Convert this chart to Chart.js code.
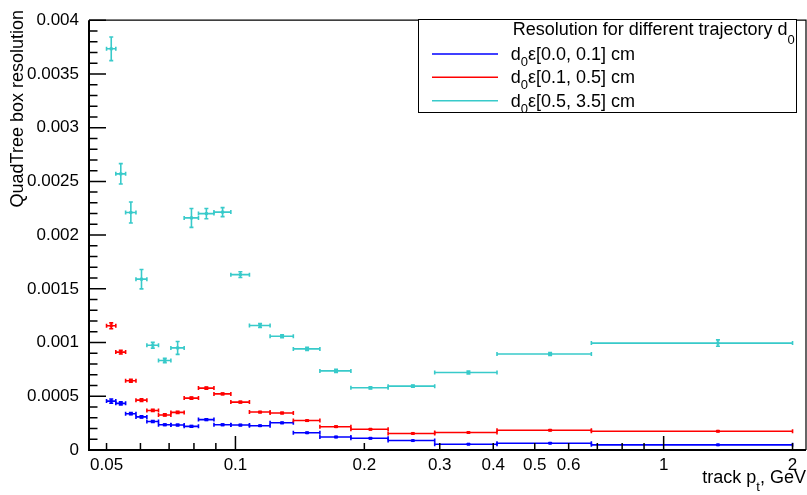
<!DOCTYPE html>
<html><head><meta charset="utf-8">
<script src="https://cdn.jsdelivr.net/npm/chart.js@4/dist/chart.umd.min.js"></script>
<style>html,body{margin:0;padding:0;background:#fff;} canvas{display:block;}</style>
</head><body>
<canvas id="c" width="807" height="495" style="width:807px;height:495px"></canvas>
<script>
// ---- data ----
const binEdges = [0.05, 0.05256, 0.0554, 0.05857, 0.06211, 0.06612, 0.07067, 0.0759, 0.08197, 0.08909,
  0.09756, 0.10782, 0.12048, 0.13652, 0.15748, 0.18605, 0.22727, 0.29197, 0.40816, 0.67797, 2.0];
const xTickLabels = [0.05, 0.1, 0.2, 0.3, 0.4, 0.5, 0.6, 1, 2];
const yTickLabels = [0, 0.0005, 0.001, 0.0015, 0.002, 0.0025, 0.003, 0.0035, 0.004];
const seriesLabels = ['[0.0, 0.1] cm', '[0.1, 0.5] cm', '[0.5, 3.5] cm'];

const d0Low = [0.000455, 0.000434, 0.000338, 0.000308, 0.000265, 0.000235, 0.000232, 0.00022, 0.000283, 0.000235,
  0.000232, 0.000226, 0.000253, 0.00016, 0.000121, 0.000109, 0.000088, 0.000054, 0.000063, 0.000048];
const d0LowErr = [0.00002, 0.000014, 0.00001, 0.00001, 0.000008, 0.000007, 0.000007, 0.000007, 0.000008, 0.000006,
  0.000005, 0.000005, 0.000005, 0.000004, 0.000004, 0.000004, 0.000003, 0.000003, 0.000003, 0.000003];
const d0Mid = [0.001156, 0.000911, 0.000645, 0.000464, 0.000368, 0.000326, 0.00035, 0.000483, 0.000576, 0.000522,
  0.000446, 0.000353, 0.000344, 0.000274, 0.000217, 0.000193, 0.000154, 0.000163, 0.000184, 0.000175];
const d0MidErr = [0.000027, 0.000018, 0.000014, 0.000012, 0.00001, 0.00001, 0.00001, 0.00001, 0.00001, 0.000008,
  0.000007, 0.000006, 0.000006, 0.000005, 0.000005, 0.000004, 0.000004, 0.000004, 0.000004, 0.000004];
const d0High = [0.003734, 0.00257, 0.00221, 0.00159, 0.000975, 0.000833, 0.00095, 0.00216, 0.0022, 0.002214,
  0.001632, 0.001158, 0.001059, 0.000941, 0.000736, 0.000579, 0.000594, 0.000721, 0.000893, 0.000995];
const d0HighErr = [0.00011, 0.000095, 0.000098, 0.00009, 0.000027, 0.00002, 0.00006, 0.000088, 0.000048, 0.000042,
  0.000027, 0.000018, 0.000014, 0.000014, 0.000014, 0.00001, 0.00001, 0.000014, 0.000014, 0.00003];

const FONT = '"Liberation Sans", Arial, Helvetica, sans-serif';
const colLow = 'rgb(0,0,255)', colMid = 'rgb(255,0,0)', colHigh = 'rgb(56,202,202)';

function centers() { return binEdges.slice(0, -1).map((e, i) => (e + binEdges[i + 1]) / 2); }
function pts(vals) { const c = centers(); return vals.map((v, i) => ({ x: c[i], y: v })); }

const errPlugin = {
  id: 'rootErr',
  afterDatasetsDraw(chart) {
    const { ctx, scales: { x, y }, chartArea: a } = chart;
    ctx.save();
    ctx.beginPath(); ctx.rect(a.left, a.top, a.right - a.left, a.bottom - a.top); ctx.clip();
    chart.data.datasets.forEach(ds => {
      ctx.strokeStyle = ds.borderColor; ctx.fillStyle = ds.borderColor; ctx.lineWidth = 1.6;
      ds.data.forEach((p, i) => {
        const e = ds.errors[i];
        const xl = x.getPixelForValue(binEdges[i]), xr = x.getPixelForValue(binEdges[i + 1]);
        const xc = x.getPixelForValue(p.x);
        const yc = y.getPixelForValue(p.y), yt = y.getPixelForValue(p.y + e), yb = y.getPixelForValue(p.y - e);
        ctx.beginPath();
        ctx.moveTo(xl, yc); ctx.lineTo(xr, yc);
        ctx.moveTo(xc, yt); ctx.lineTo(xc, yb);
        ctx.moveTo(xl, yc - 2); ctx.lineTo(xl, yc + 2);
        ctx.moveTo(xr, yc - 2); ctx.lineTo(xr, yc + 2);
        ctx.moveTo(xc - 2, yt); ctx.lineTo(xc + 2, yt);
        ctx.moveTo(xc - 2, yb); ctx.lineTo(xc + 2, yb);
        ctx.stroke();
        ctx.fillRect(xc - 1.5, yc - 1.5, 3, 3);
      });
    });
    ctx.restore();
  },
  afterDraw(chart) {
    const { ctx, scales: { x, y }, chartArea: a } = chart;
    ctx.save();
    ctx.strokeStyle = '#000';
    // frame
    ctx.lineWidth = 1.2;
    ctx.beginPath();
    ctx.moveTo(a.left, a.top); ctx.lineTo(a.right, a.top); ctx.lineTo(a.right, a.bottom);
    ctx.stroke();
    ctx.lineWidth = 2;
    ctx.beginPath();
    ctx.moveTo(a.left, a.top); ctx.lineTo(a.left, a.bottom); ctx.lineTo(a.right, a.bottom);
    ctx.stroke();
    // y ticks (inside)
    ctx.lineWidth = 1.5;
    ctx.beginPath();
    for (let k = 0; k <= 40; k++) {
      const v = k * 0.0001;
      const py = y.getPixelForValue(v);
      const len = (k % 5 === 0) ? 17 : 8.5;
      ctx.moveTo(a.left, py); ctx.lineTo(a.left + len, py);
    }
    ctx.stroke();
    // x ticks (inside)
    const minorX = [0.05, 0.06, 0.07, 0.08, 0.09, 0.2, 0.3, 0.4, 0.5, 0.6, 0.7, 0.8, 0.9, 2];
    const majorX = [0.1, 1];
    ctx.beginPath();
    minorX.forEach(v => { const px = x.getPixelForValue(v); ctx.moveTo(px, a.bottom); ctx.lineTo(px, a.bottom - 7); });
    majorX.forEach(v => { const px = x.getPixelForValue(v); ctx.moveTo(px, a.bottom); ctx.lineTo(px, a.bottom - 14); });
    ctx.stroke();

    // axis titles
    ctx.fillStyle = '#000';
    ctx.textBaseline = 'alphabetic';
    ctx.font = '18px ' + FONT;
    ctx.save();
    ctx.translate(23, 10);
    ctx.rotate(-Math.PI / 2);
    ctx.textAlign = 'right';
    ctx.fillText('QuadTree box resolution', 0, 0);
    ctx.restore();
    // x title with subscript
    const big = '18px ' + FONT, small = '13px ' + FONT;
    ctx.font = big; const w1 = ctx.measureText('track p').width; const w3 = ctx.measureText(', GeV').width;
    ctx.font = small; const w2 = ctx.measureText('t').width;
    let sx = 806 - (w1 + w2 + w3);
    ctx.textAlign = 'left';
    ctx.font = big; ctx.fillText('track p', sx, 483); sx += w1;
    ctx.font = small; ctx.fillText('t', sx, 491); sx += w2;
    ctx.font = big; ctx.fillText(', GeV', sx, 483);

    // legend
    const L = 418, T = 19, R = 796, B = 112;
    ctx.fillStyle = '#fff'; ctx.fillRect(L, T, R - L, B - T);
    ctx.lineWidth = 1; ctx.strokeStyle = '#000'; ctx.strokeRect(L + 0.5, T + 0.5, R - L, B - T);
    ctx.fillStyle = '#000';
    ctx.font = big; ctx.fillText('Resolution for different trajectory d', 512.7, 35);
    const tw = ctx.measureText('Resolution for different trajectory d').width;
    ctx.font = small; ctx.fillText('0', 512.7 + tw, 44);
    const cols = [colLow, colMid, colHigh];
    const ys = [54, 77.3, 100.7];
    chart.data.datasets.forEach((ds, i) => {
      ctx.strokeStyle = cols[i]; ctx.lineWidth = 1.6;
      ctx.beginPath(); ctx.moveTo(432, ys[i]); ctx.lineTo(498, ys[i]); ctx.stroke();
      let tx = 510.7;
      ctx.font = big; ctx.fillText('d', tx, ys[i] + 6); tx += ctx.measureText('d').width;
      ctx.font = small; ctx.fillText('0', tx, ys[i] + 12); tx += ctx.measureText('0').width;
      ctx.font = big; ctx.fillText('\u03b5' + seriesLabels[i], tx, ys[i] + 6);
    });
    ctx.restore();
  }
};

new Chart(document.getElementById('c'), {
  type: 'scatter',
  data: {
    datasets: [
      { label: seriesLabels[0], data: pts(d0Low), errors: d0LowErr, borderColor: colLow, pointRadius: 0, showLine: false },
      { label: seriesLabels[1], data: pts(d0Mid), errors: d0MidErr, borderColor: colMid, pointRadius: 0, showLine: false },
      { label: seriesLabels[2], data: pts(d0High), errors: d0HighErr, borderColor: colHigh, pointRadius: 0, showLine: false }
    ]
  },
  options: {
    responsive: false, animation: false, devicePixelRatio: 1, events: [],
    layout: { padding: { top: 8, right: 1, left: 0, bottom: 0 } },
    plugins: { legend: { display: false }, tooltip: { enabled: false } },
    scales: {
      x: {
        type: 'logarithmic', min: 0.0455, max: 2.15,
        grid: { display: false, drawTicks: false }, border: { display: false },
        afterBuildTicks: s => { s.ticks = xTickLabels.map(v => ({ value: v })); },
        afterFit: s => { s.height = 45; },
        ticks: { autoSkip: false, maxRotation: 0, padding: 5, color: '#000', font: { family: FONT, size: 17 },
          callback: v => String(v) }
      },
      y: {
        type: 'linear', min: 0, max: 0.004,
        grid: { display: false, drawTicks: false }, border: { display: false },
        afterBuildTicks: s => { s.ticks = yTickLabels.map(v => ({ value: v })); },
        afterFit: s => { s.width = 89; },
        ticks: { autoSkip: false, padding: 10, color: '#000', font: { family: FONT, size: 17 },
          callback: v => String(v) }
      }
    }
  },
  plugins: [errPlugin]
});
</script>
</body></html>
